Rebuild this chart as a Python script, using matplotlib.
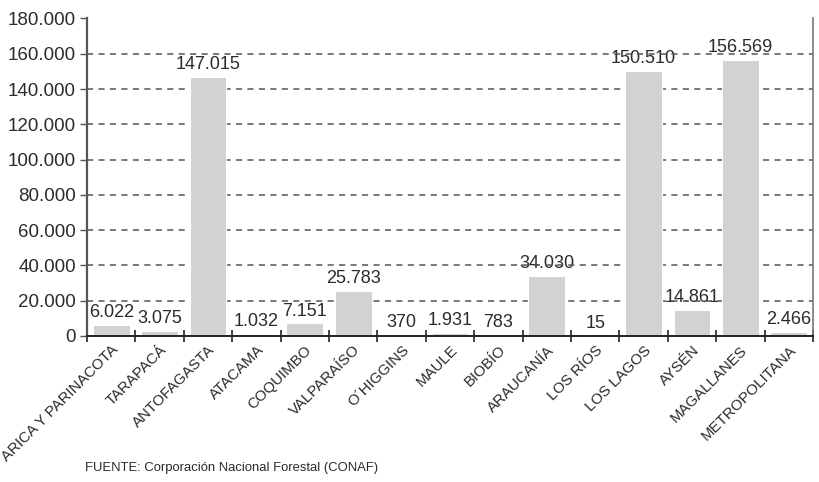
import matplotlib.pyplot as plt
from matplotlib.ticker import FuncFormatter, FixedLocator
from numpy import arange

regiones = ["ARICA Y PARINACOTA", "TARAPACÁ", "ANTOFAGASTA", "ATACAMA", "COQUIMBO",
            "VALPARAÍSO", "O´HIGGINS", "MAULE", "BIOBÍO", "ARAUCANÍA", "LOS RÍOS",
            "LOS LAGOS", "AYSÉN", "MAGALLANES", "METROPOLITANA"]
superficie = [6022, 3075, 147015, 1032, 7151, 25783, 370, 1931, 783, 34030, 15,
              150510, 14861, 156569, 2466]
fuente = "FUENTE: Corporación Nacional Forestal (CONAF)"

# no condensed face installed, so Liberation Sans at a slightly smaller size
plt.rcParams['font.family'] = ['Liberation Sans', 'DejaVu Sans']
texto = "#2b2b2b"


def miles(v, pos=None):
    return f"{int(round(v)):,}".replace(",", ".")


fig = plt.figure(figsize=(8.19, 4.82), dpi=100)
ax = fig.add_axes([87 / 819, 1 - 336 / 482, (813 - 87) / 819, (336 - 18.5) / 482])

x = arange(len(regiones))
ax.bar(x, superficie, width=0.76, color="#d1d2d4", edgecolor="white", linewidth=0.8, zorder=2)

for xi, v in zip(x, superficie):
    ax.text(xi, v + 2200, miles(v), ha="center", va="bottom", fontsize=13,
            color=texto, zorder=0.3)

ax.set_xlim(-0.5, len(regiones) - 0.5)
ax.set_ylim(0, 180000)
ax.set_yticks(arange(0, 180001, 20000))
ax.yaxis.set_major_formatter(FuncFormatter(miles))
ax.set_axisbelow(True)
ax.yaxis.grid(True, color="#555555", linestyle=(0, (4, 3.5)), linewidth=1.1)

ax.set_xticks(x)
ax.set_xticklabels(regiones, rotation=45, ha="right", rotation_mode="anchor", fontsize=10.8)
ax.xaxis.set_minor_locator(FixedLocator(arange(-0.5, len(regiones), 1)))
ax.tick_params(axis="x", which="major", length=0, pad=5, colors=texto)
ax.tick_params(axis="x", which="minor", length=9, direction="inout", width=1.2, color="#222222")
ax.tick_params(axis="y", length=5, width=1, color="#555555", labelsize=13.5, labelcolor=texto, pad=3)

ax.spines["top"].set_visible(False)
ax.spines["left"].set_color("#555555")
ax.spines["left"].set_linewidth(1.6)
ax.spines["right"].set_color("#777777")
ax.spines["right"].set_linewidth(1.2)
ax.spines["bottom"].set_color("#222222")
ax.spines["bottom"].set_linewidth(1.4)

fig.text(85 / 819, 1 - 468 / 482, fuente, fontsize=9.4, color=texto, va="center")

fig.savefig("out.png", dpi=100)
